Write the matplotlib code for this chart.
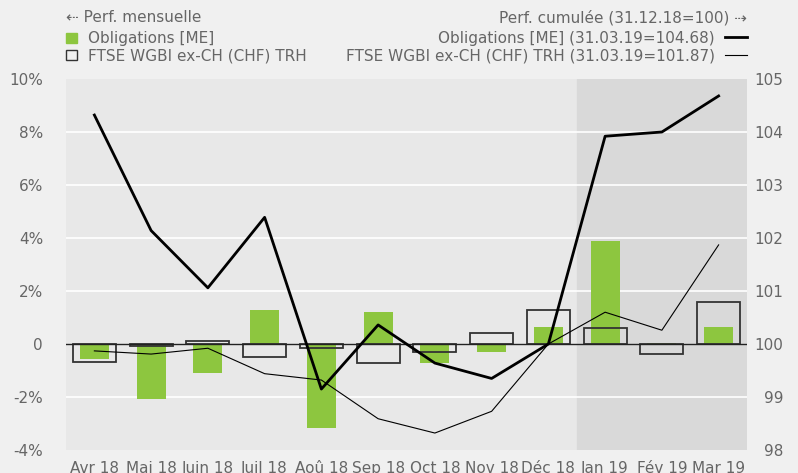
import numpy as np
import matplotlib.pyplot as plt

months = ['Avr 18', 'Mai 18', 'Juin 18', 'Juil 18', 'Aoû 18', 'Sep 18',
          'Oct 18', 'Nov 18', 'Déc 18', 'Jan 19', 'Fév 19', 'Mar 19']
# monthly performance (%)
fund_month = [-0.55, -2.07, -1.08, 1.28, -3.16, 1.21, -0.70, -0.29, 0.64, 3.90, 0.04, 0.64]
bench_month = [-0.68, -0.06, 0.11, -0.50, -0.16, -0.73, -0.30, 0.40, 1.27, 0.59, -0.37, 1.60]
# cumulative performance (31.12.18 = 100)
fund_cum = [104.32, 102.14, 101.06, 102.39, 99.15, 100.36, 99.64, 99.35, 100.0, 103.92, 104.0, 104.68]
bench_cum = [99.87, 99.81, 99.92, 99.44, 99.32, 98.59, 98.32, 98.73, 100.0, 100.60, 100.26, 101.87]

txt = '#666666'
green = '#8dc63f'

fig = plt.figure(figsize=(7.98, 4.73), dpi=100, facecolor='#f0f0f0')
ax = fig.add_axes([66/798, 1 - 450/473, 681/798, 371/473])
ax.set_facecolor('#e8e8e8')
ax2 = ax.twinx()

x = np.arange(len(months))
ax.axvspan(8.5, 11.5, color='#d9d9d9', zorder=0)
for yv in [-2, 2, 4, 6, 8]:
    ax.axhline(yv, color='white', lw=1.2, zorder=1)
ax.bar(x, fund_month, width=0.51, color=green, zorder=2)
ax.bar(x, bench_month, width=0.76, facecolor='none', edgecolor='#333333', lw=1.3, zorder=3)
ax.axhline(0, color='#222222', lw=1, zorder=4)

ax.set_xlim(-0.5, 11.5)
ax.set_ylim(-4, 10)
ax.set_yticks(range(-4, 11, 2))
ax.set_yticklabels([f'{v}%' if v != 0 else '0' for v in range(-4, 11, 2)])
ax.set_xticks(x)
ax.set_xticklabels(months)
ax.tick_params(axis='both', length=0, colors=txt, labelsize=11)
ax.tick_params(axis='y', pad=16.5)
ax.tick_params(axis='x', pad=8)

ax2.plot(x, fund_cum, color='black', lw=2, zorder=5)
ax2.plot(x, bench_cum, color='black', lw=0.8, zorder=5)
ax2.set_ylim(98, 105)
ax2.set_yticks(range(98, 106))
ax2.tick_params(axis='y', length=0, colors=txt, labelsize=11, pad=26)
for lab in ax2.get_yticklabels():
    lab.set_horizontalalignment('right')

for a in (ax, ax2):
    for s in a.spines.values():
        s.set_visible(False)

# legend, left
fig.text(66/798, 1 - 18/473, '⇠ Perf. mensuelle', color=txt, fontsize=11, va='center')
fig.patches.append(plt.Rectangle((66/798, 1 - 43/473), 11/798, 10/473,
                                 transform=fig.transFigure, color=green, figure=fig))
fig.text(88/798, 1 - 38/473, 'Obligations [ME]', color=txt, fontsize=11, va='center')
fig.patches.append(plt.Rectangle((66/798, 1 - 60/473), 11/798, 10/473, transform=fig.transFigure,
                                 facecolor='none', edgecolor='#333333', lw=1, figure=fig))
fig.text(88/798, 1 - 56/473, 'FTSE WGBI ex-CH (CHF) TRH', color=txt, fontsize=11, va='center')

# legend, right
fig.text(747/798, 1 - 18/473, 'Perf. cumulée (31.12.18=100) ⇢', color=txt, fontsize=11,
         va='center', ha='right')
fig.text(715/798, 1 - 38/473, 'Obligations [ME] (31.03.19=104.68)', color=txt, fontsize=11,
         va='center', ha='right')
fig.text(715/798, 1 - 56/473, 'FTSE WGBI ex-CH (CHF) TRH (31.03.19=101.87)', color=txt, fontsize=11,
         va='center', ha='right')
fig.add_artist(plt.Line2D([725/798, 747/798], [1 - 37/473] * 2, color='black', lw=2))
fig.add_artist(plt.Line2D([725/798, 747/798], [1 - 55/473] * 2, color='black', lw=0.8))

fig.savefig('out.png', dpi=100, facecolor=fig.get_facecolor())
